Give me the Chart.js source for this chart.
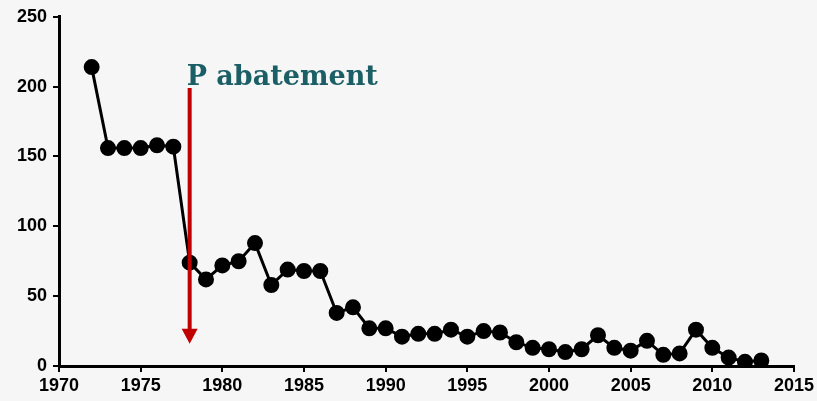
<!DOCTYPE html>
<html>
<head>
<meta charset="utf-8">
<script src="https://cdn.jsdelivr.net/npm/chart.js@4"></script>
<style>
  html, body { margin: 0; padding: 0; background: #f6f6f6; }
  #wrap { width: 817px; height: 401px; }
</style>
</head>
<body>
<div id="wrap"><canvas id="chart"></canvas></div>
<script>
const years = [1972, 1973, 1974, 1975, 1976, 1977, 1978, 1979, 1980, 1981,
  1982, 1983, 1984, 1985, 1986, 1987, 1988, 1989, 1990, 1991,
  1992, 1993, 1994, 1995, 1996, 1997, 1998, 1999, 2000, 2001,
  2002, 2003, 2004, 2005, 2006, 2007, 2008, 2009, 2010, 2011,
  2012, 2013];
const values = [214, 156, 156, 156, 158, 157, 74, 62, 72, 75,
  88, 58, 69, 68, 68, 38, 42, 27, 27, 21,
  23, 23, 26, 21, 25, 24, 17, 13, 12, 10,
  12, 22, 13, 11, 18, 8, 9, 26, 13, 6,
  3, 4];

const xTicks = [1970, 1975, 1980, 1985, 1990, 1995, 2000, 2005, 2010, 2015];
const yTicks = [0, 50, 100, 150, 200, 250];

// arrow + label (in data units)
const arrowYear = 1978;
const arrowFrom = 199;
const arrowTo = 16;
const arrowLabel = 'P abatement';

const bgPlugin = {
  id: 'bg',
  beforeDraw(chart) {
    const c = chart.ctx;
    c.save();
    c.fillStyle = '#f6f6f6';
    c.fillRect(0, 0, chart.width, chart.height);
    c.restore();
  }
};

const arrowPlugin = {
  id: 'arrow',
  afterDatasetsDraw(chart) {
    const c = chart.ctx;
    const xs = chart.scales.x, ys = chart.scales.y;
    const x = xs.getPixelForValue(arrowYear);
    const y1 = ys.getPixelForValue(arrowFrom);
    const y2 = ys.getPixelForValue(arrowTo);
    c.save();
    c.strokeStyle = '#c00000';
    c.fillStyle = '#c00000';
    c.lineWidth = 4;
    c.beginPath();
    c.moveTo(x, y1);
    c.lineTo(x, y2 - 12);
    c.stroke();
    c.beginPath();
    c.moveTo(x - 8, y2 - 15);
    c.lineTo(x + 8, y2 - 15);
    c.lineTo(x, y2);
    c.closePath();
    c.fill();

    c.fillStyle = '#1b5e66';
    c.font = 'bold 27px "DejaVu Serif"';
    c.textAlign = 'left';
    c.textBaseline = 'alphabetic';
    c.fillText(arrowLabel, x - 3, y1 - 3);
    c.restore();
  }
};

new Chart(document.getElementById('chart'), {
  type: 'line',
  data: {
    datasets: [{
      data: years.map((yr, i) => ({ x: yr, y: values[i] })),
      borderColor: '#000',
      backgroundColor: '#000',
      borderWidth: 3,
      pointRadius: 6.5,
      pointHoverRadius: 6.5,
      tension: 0
    }]
  },
  options: {
    responsive: true,
    maintainAspectRatio: false,
    animation: false,
    events: [],
    layout: { padding: { left: 0, right: 23, top: 16, bottom: 0 } },
    plugins: { legend: { display: false }, tooltip: { enabled: false } },
    scales: {
      x: {
        type: 'linear',
        min: 1970,
        max: 2015,
        afterBuildTicks: s => { s.ticks = xTicks.map(v => ({ value: v })); },
        afterFit: s => { s.height = 35; },
        border: { color: '#000', width: 3 },
        grid: { drawOnChartArea: false, color: '#000', lineWidth: 2, tickLength: 6 },
        ticks: {
          color: '#000',
          padding: 3,
          maxRotation: 0,
          callback: v => String(v),
          font: { family: '"Liberation Sans", Arial', size: 18, weight: 'bold' }
        }
      },
      y: {
        min: 0,
        max: 250,
        afterBuildTicks: s => { s.ticks = yTicks.map(v => ({ value: v })); },
        afterFit: s => { s.width = 59; },
        border: { color: '#000', width: 3 },
        grid: { drawOnChartArea: false, color: '#000', lineWidth: 2, tickLength: 6 },
        ticks: {
          color: '#000',
          padding: 6,
          font: { family: '"Liberation Sans", Arial', size: 18, weight: 'bold' }
        }
      }
    }
  },
  plugins: [bgPlugin, arrowPlugin]
});
</script>
</body>
</html>
